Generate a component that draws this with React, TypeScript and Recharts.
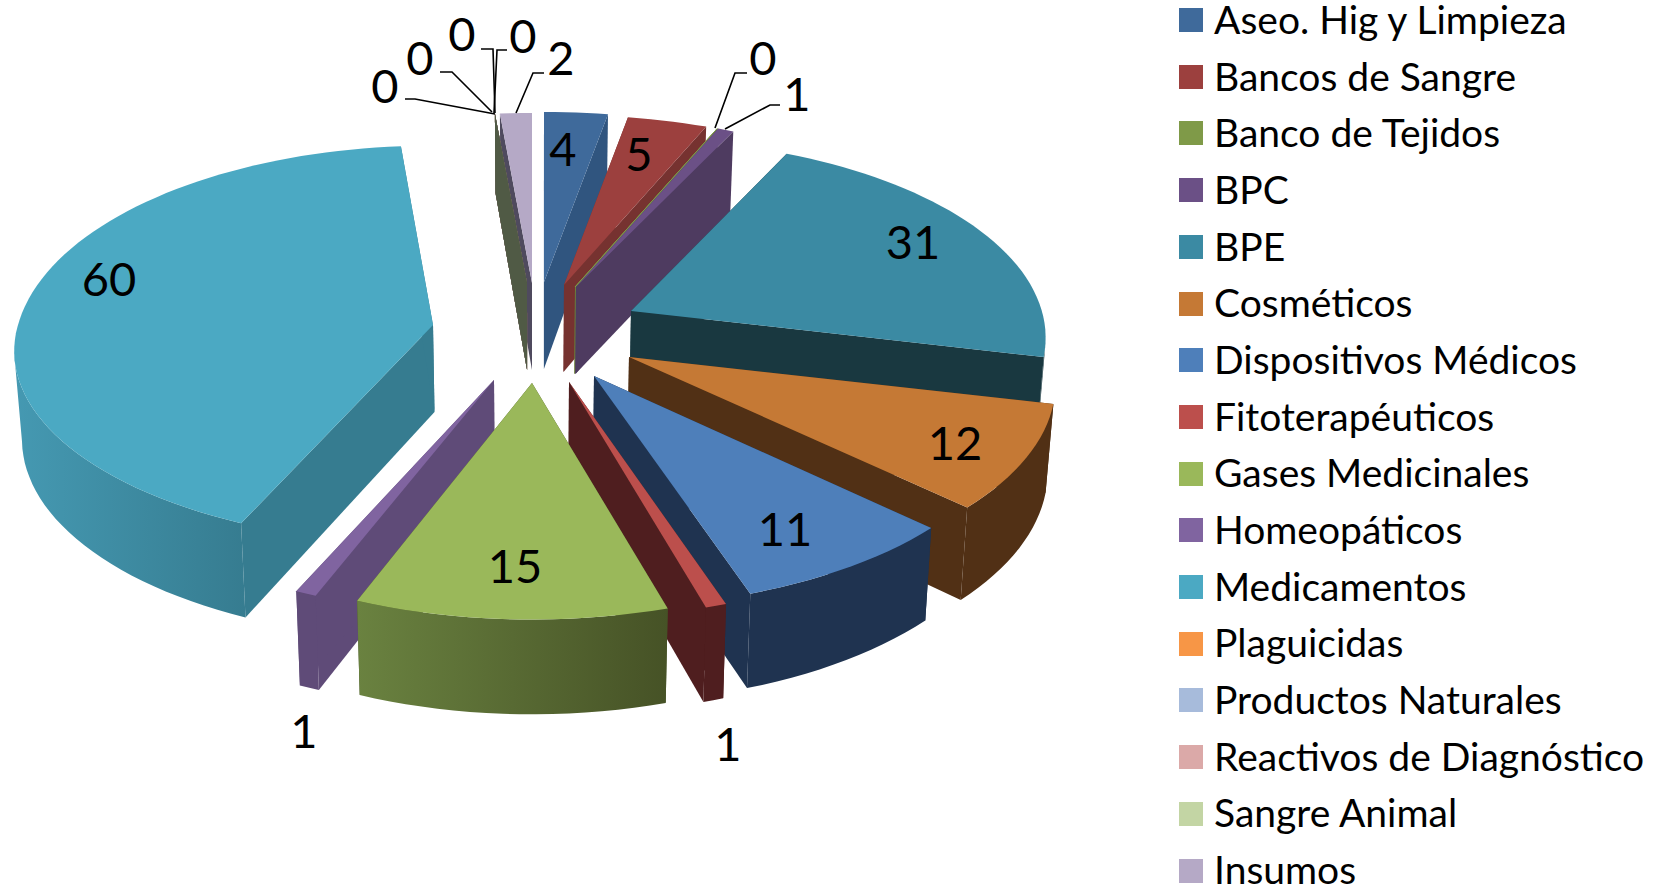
import { PieChart, Pie, Legend } from 'recharts';

const categories = [
  'Aseo. Hig y Limpieza', 'Bancos de Sangre', 'Banco de Tejidos', 'BPC', 'BPE', 'Cosméticos',
  'Dispositivos Médicos', 'Fitoterapéuticos', 'Gases Medicinales', 'Homeopáticos', 'Medicamentos',
  'Plaguicidas', 'Productos Naturales', 'Reactivos de Diagnóstico', 'Sangre Animal', 'Insumos',
];
const values = [4, 5, 0, 1, 31, 12, 11, 1, 15, 1, 60, 0, 0, 0, 0, 2];

const topColors = [
  '#3f6a9b', '#9c403e', '#7f9a48', '#6b5086', '#3b8aa3', '#c57935', '#4e7fba', '#bc4f4c',
  '#9ab85a', '#8064a0', '#4ba9c3', '#f79646', '#a7bbdb', '#dba9a8', '#c3d5a4', '#b5a9c6',
];
const wallColors = [
  '#30557f', '#763230', '#6b7f3a', '#4e3b60', '#193840', '#513015', '#1f3350', '#4f1e1f',
  '#465226', '#5f4b78', '#367c90', '#a0602c', '#6c7a90', '#8f6e6d', '#505a45', '#4f4a5e',
];
// left edge of the outer wall shading, only a couple of slices have a visible gradient
const wallLeftColors: Record<number, string> = { 8: '#6a8240', 10: '#4599b2' };

// explosion of each slice from the pie centre, like the dragged points in the original
const explode = [
  [10, -50], [30, -47], [41, -45], [42, -45], [97, -21], [95, 25], [60, 44], [35, 50],
  [-2, 51], [-40, 48], [-101, -7], [-7, -49], [-7, -49], [-7, -49], [-7, -49], [-2, -49],
];
const stretchX = [1, 1, 1, 1, 0.99, 1.018, 1.015, 1.02, 1.01, 1.03, 1, 1, 1, 1, 1, 1];
const flatten = [1, 1, 1, 1, 1.01, 1.03, 1.04, 1.06, 1.06, 1.05, 0.985, 1, 1, 1, 1, 1];
const flattenBack = [1, 1, 1, 1, 1.01, 1, 1, 1, 1, 1, 1.055, 1, 1, 1, 1, 1];

// back to front
const drawOrder = [15, 11, 12, 13, 14, 0, 1, 2, 3, 4, 5, 6, 7, 10, 9, 8];

const labelPos = [
  [563, 148], [639, 153], [763, 57], [797, 93], [913, 241], [955, 442], [785, 528], [728, 743],
  [515, 565], [304, 730], [109, 278], [385, 85], [420, 57], [462, 33], [523, 35], [561, 57],
];
const leaders: Record<number, number[][]> = {
  2: [[747, 73], [735, 73], [715, 128]],
  3: [[780, 105], [770, 105], [725, 129]],
  11: [[405, 99], [415, 99], [495, 114]],
  12: [[440, 72], [452, 72], [492, 112]],
  13: [[481, 49], [493, 49], [495, 113]],
  14: [[507, 50], [497, 50], [494, 113]],
  15: [[544, 73], [533, 73], [516, 113]],
};

const data = categories.map((name, i) => ({ name, value: values[i] }));

const CX = 534;
const CY = 332;
const RX = 415;
const TILT = 0.465;
const PERSP = 0.135;
const DEPTH = 87;
const FONT = 'Lato, Carlito, sans-serif';

function Slice3D(props: any) {
  const { cx, cy, outerRadius, startAngle, endAngle, idx } = props;
  const ax = cx + explode[idx][0];
  const ay = cy + explode[idx][1];
  const pt = (deg: number) => {
    const a = (deg * Math.PI) / 180;
    const u = Math.sin(a);
    const v = -Math.cos(a);
    const s = 1 / (1 - PERSP * v);
    const k = v < 0 ? flattenBack[idx] : flatten[idx];
    return [ax + u * outerRadius * s * stretchX[idx], ay + v * outerRadius * TILT * s * k, v];
  };
  const a0 = 90 - startAngle;
  const a1 = 90 - endAngle;
  const arc: number[][] = [];
  const steps = Math.max(1, Math.ceil((a1 - a0) / 2));
  for (let i = 0; i <= steps; i++) arc.push(pt(a0 + ((a1 - a0) * i) / steps));

  const poly = (pts: number[][]) => pts.map((p) => `${p[0].toFixed(1)},${p[1].toFixed(1)}`).join(' ');
  // the base is a little further from the eye, so verticals lean in towards the centre
  const down = (p: number[]) => [p[0] + (cx - p[0]) * 0.015, p[1] + DEPTH * (1 + 0.09 * p[2])];
  const apex = [ax, ay, 0];
  const first = arc[0];
  const last = arc[arc.length - 1];
  const wall = wallColors[idx];
  const fillArc = wallLeftColors[idx] ? `url(#wall-${idx})` : wall;
  // only the part of the rim turned to the viewer gets a wall
  const rim = arc.filter((p) => p[2] > PERSP);
  const showEdge = categories[idx] === 'Banco de Tejidos';

  return (
    <g>
      {wallLeftColors[idx] && (
        <defs>
          <linearGradient id={`wall-${idx}`} x1="0" y1="0" x2="1" y2="0">
            <stop offset="0%" stopColor={wallLeftColors[idx]} />
            <stop offset="100%" stopColor={wall} />
          </linearGradient>
        </defs>
      )}
      <polygon points={poly([apex, first, down(first), down(apex)])} fill={wall} />
      <polygon points={poly([apex, last, down(last), down(apex)])} fill={wall} />
      {rim.length > 1 && <polygon points={poly([...rim, ...rim.map(down).reverse()])} fill={fillArc} />}
      <polygon
        points={poly([apex, ...arc])}
        fill={topColors[idx]}
        stroke={showEdge ? topColors[idx] : 'none'}
        strokeWidth={showEdge ? 1 : 0}
      />
    </g>
  );
}

function DataLabel(props: any) {
  const idx = categories.indexOf(props.name);
  const line = leaders[idx];
  return (
    <g>
      {line && (
        <polyline
          points={line.map((p) => p.join(',')).join(' ')}
          fill="none"
          stroke="#000"
          strokeWidth={1.6}
        />
      )}
      <text
        x={labelPos[idx][0]}
        y={labelPos[idx][1]}
        textAnchor="middle"
        dominantBaseline="central"
        fontFamily={FONT}
        fontSize={47}
        fill="#000"
      >
        {values[idx]}
      </text>
    </g>
  );
}

function ChartLegend() {
  return (
    <div style={{ position: 'absolute', left: 0, top: 0, width: 1662, height: 887 }}>
      {categories.map((name, i) => (
        <div key={name}>
          <div
            style={{
              position: 'absolute',
              left: 1179,
              top: 8 + i * 56.7,
              width: 24,
              height: 24,
              background: topColors[i],
            }}
          />
          <div
            style={{
              position: 'absolute',
              left: 1214,
              top: i * 56.67 + 2.1,
              height: 34,
              lineHeight: '34px',
              fontFamily: FONT,
              fontSize: 39,
              color: '#000',
              whiteSpace: 'nowrap',
            }}
          >
            {name}
          </div>
        </div>
      ))}
    </div>
  );
}

export default function App() {
  return (
    <div style={{ position: 'absolute', left: 0, top: 0, width: 1662, height: 887, background: '#fff' }}>
      <PieChart width={1662} height={887} margin={{ top: 0, right: 0, bottom: 0, left: 0 }}>
        {drawOrder.map((idx) => (
          <Pie
            key={idx}
            data={data}
            dataKey="value"
            nameKey="name"
            cx={CX}
            cy={CY}
            outerRadius={RX}
            startAngle={90}
            endAngle={-270}
            stroke="none"
            isAnimationActive={false}
            shape={(p: any) => (p.name === categories[idx] ? <Slice3D {...p} idx={idx} /> : <g />)}
          />
        ))}
        <Pie
          data={data}
          dataKey="value"
          nameKey="name"
          cx={CX}
          cy={CY}
          outerRadius={RX}
          startAngle={90}
          endAngle={-270}
          stroke="none"
          isAnimationActive={false}
          shape={() => <g />}
          labelLine={false}
          label={(p: any) => <DataLabel {...p} />}
        />
        <Legend content={() => <ChartLegend />} wrapperStyle={{ left: 0, top: 0, width: 1662, height: 887 }} />
      </PieChart>
    </div>
  );
}
